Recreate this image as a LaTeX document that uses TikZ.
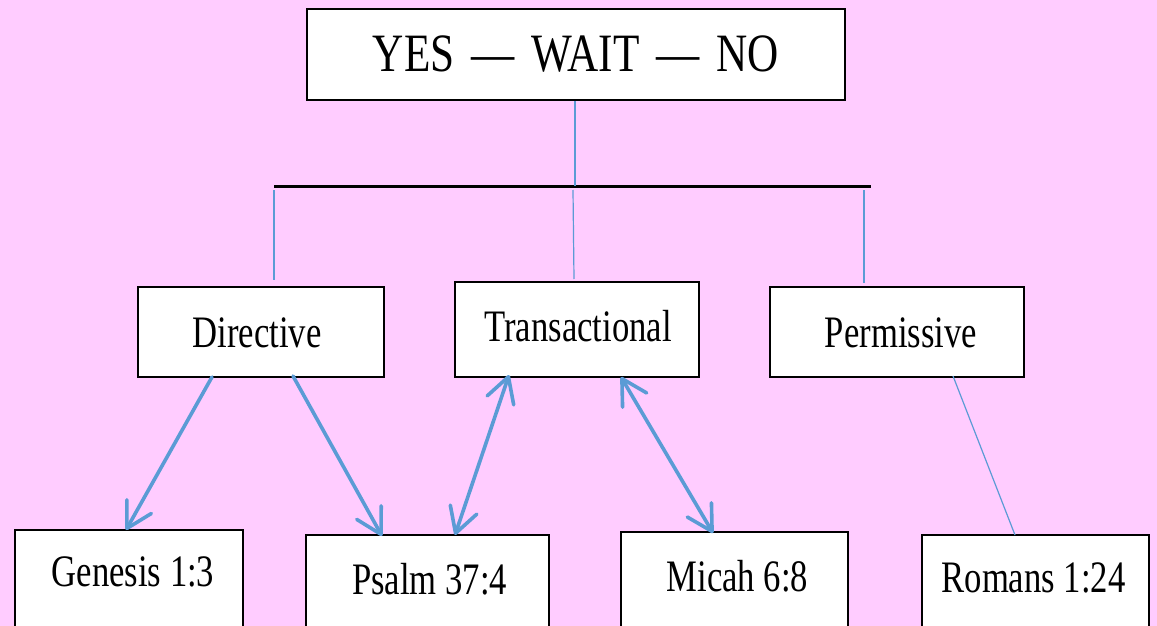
\documentclass[tikz,border=0pt]{standalone}
\usepackage{fontspec}
\setmainfont{Liberation Serif}[FakeStretch=0.77]
\newfontfamily\topfont{Liberation Serif}[FakeStretch=0.8]
\usetikzlibrary{arrows.meta,calc}
\definecolor{bgpink}{HTML}{FFCCFF}
\definecolor{lineblue}{HTML}{5B9BD5}
\tikzset{
  box/.style={draw=black, line width=2, fill=white, inner sep=0pt},
  lab/.style={font=\fontsize{45}{50}\selectfont, inner sep=0pt},
  thinlink/.style={draw=lineblue, line width=1.2},
  barb/.tip={Straight Barb[length=25pt,width=28pt,line width=3.6pt,round]},
  thicklink/.style={draw=lineblue, line width=3.6, line cap=round, arrows={-barb}},
  bothlink/.style={draw=lineblue, line width=3.6, line cap=round, arrows={barb-barb}},
}
\begin{document}
\begin{tikzpicture}[x=1pt,y=-1pt]
\useasboundingbox (0,0) rectangle (1157,626);
\clip (0,0) rectangle (1157,626);
\fill[bgpink] (0,0) rectangle (1157,626);

% top
\node[box, minimum width=538, minimum height=91, anchor=north west,
  font=\topfont\fontsize{54}{60}\selectfont] (top) at (306,8)
  {YES\hspace{17pt}—\hspace{17pt}WAIT\hspace{17pt}—\hspace{17pt}NO};

% bus line
\coordinate (busL) at (274,186);
\coordinate (busR) at (871,186);
\draw[black, line width=3] (busL) -- (busR);
\coordinate (busC) at (575,186);
\draw[thinlink] (top.south -| busC) -- (busC);

% middle row
\node[box, minimum width=246, minimum height=90, anchor=north west,
  label={[lab, anchor=center, xshift=-4, yshift=-1]center:Directive}] (dir) at (137,286) {};
\node[box, minimum width=244, minimum height=95, anchor=north west,
  label={[lab, anchor=center, xshift=1, yshift=3]center:Transactional}] (tra) at (454,281) {};
\node[box, minimum width=254, minimum height=90, anchor=north west,
  label={[lab, anchor=center, xshift=4, yshift=-1]center:Permissive}] (per) at (769,286) {};

\coordinate (d1) at (274,190);
\coordinate (t1) at (573,190);
\coordinate (p1) at (864,190);
\draw[thinlink] (d1) -- (d1 |- 0,280);
\draw[thinlink] (t1) -- ($(tra.north west)+(120,-2)$);
\draw[thinlink] (p1) -- (p1 |- 0,283);

% bottom row
\node[box, minimum width=228, minimum height=140, anchor=north west,
  label={[lab, anchor=center, xshift=4, yshift=-43]north:Genesis 1:3}] (gen) at (14,529) {};
\node[box, minimum width=243, minimum height=140, anchor=north west,
  label={[lab, anchor=center, xshift=2, yshift=-45]north:Psalm 37:4}] (psa) at (305,534) {};
\node[box, minimum width=227, minimum height=140, anchor=north west,
  label={[lab, anchor=center, xshift=3, yshift=-45]north:Micah 6:8}] (mic) at (620,531) {};
\node[box, minimum width=227, minimum height=140, anchor=north west,
  label={[lab, anchor=center, xshift=-2, yshift=-44]north:Romans 1:24}] (rom) at (921,534) {};

% connectors
\draw[thicklink] ($(dir.south west)+(75,-1)$) -- ($(gen.north west)+(112,1)$);
\draw[thicklink] ($(dir.south west)+(156,-2)$) -- ($(psa.north west)+(77,2)$);
\draw[bothlink] ($(psa.north west)+(150,1)$) -- ($(tra.south west)+(55,-3)$);
\draw[bothlink] ($(tra.south west)+(167,-1)$) -- ($(mic.north west)+(93,2)$);
\draw[thinlink] ($(per.south west)+(184,-2)$) -- ($(rom.north west)+(94,1)$);
\end{tikzpicture}
\end{document}
